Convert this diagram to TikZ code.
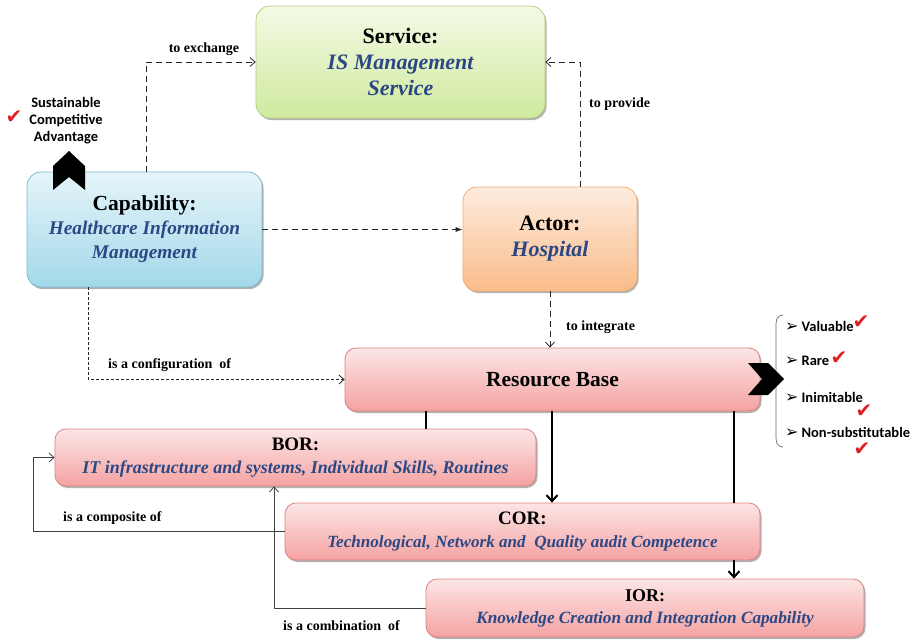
\documentclass[tikz,border=0pt]{standalone}
\usepackage{fontspec}
\setmainfont{Liberation Serif}
\newfontfamily\labelsans{Carlito}
\newfontfamily\symfont{DejaVu Sans}
\usetikzlibrary{arrows.meta,shadows}

\definecolor{subblue}{RGB}{44,72,132}
\definecolor{greentop}{RGB}{244,250,230}
\definecolor{greenbot}{RGB}{208,234,158}
\definecolor{greenline}{RGB}{178,210,128}
\definecolor{bluetop}{RGB}{230,245,250}
\definecolor{bluebot}{RGB}{162,216,233}
\definecolor{blueline}{RGB}{120,188,212}
\definecolor{orgtop}{RGB}{253,236,222}
\definecolor{orgbot}{RGB}{250,188,138}
\definecolor{orgline}{RGB}{244,172,112}
\definecolor{pinktop}{RGB}{252,230,230}
\definecolor{pinkbot}{RGB}{245,162,162}
\definecolor{pinkline}{RGB}{222,128,128}
\definecolor{tickred}{RGB}{225,30,35}

\tikzset{
  box/.style={rounded corners=14pt, line width=0.8pt, align=center, inner sep=0pt,
    drop shadow={shadow xshift=1.5pt, shadow yshift=-2pt, opacity=0.3, fill=black}},
  greenbox/.style={box, top color=greentop, bottom color=greenbot, draw=greenline},
  bluebox/.style={box, top color=bluetop, bottom color=bluebot, draw=blueline},
  orgbox/.style={box, top color=orgtop, bottom color=orgbot, draw=orgline},
  pinkbox/.style={box, rounded corners=11pt, top color=pinktop, bottom color=pinkbot, draw=pinkline},
  lbl/.style={font=\fontsize{14}{16}\selectfont\bfseries, inner sep=0pt},
  sidetext/.style={font=\labelsans\fontsize{14.5}{17}\selectfont\bfseries, inner sep=0pt},
  tick/.style={font=\symfont\fontsize{20}{20}\selectfont, text=tickred, inner sep=0pt},
  dashlink/.style={draw=black!85, line width=0.8pt, dash pattern=on 6pt off 4pt},
  finedash/.style={draw=black!85, line width=0.8pt, dash pattern=on 3pt off 2pt},
  openhead/.style={-{Straight Barb[length=5pt,width=9pt,line width=0.8pt]}},
  thinlink/.style={draw=black!75, line width=0.9pt},
  thicklink/.style={draw=black, line width=2.2pt},
  thickhead/.style={-{Straight Barb[length=6pt,width=11pt,line width=2pt]}},
}

\newcommand{\subt}[1]{{\color{subblue}\itshape #1}}
\newcommand{\bul}{{\symfont\fontsize{16}{16}\selectfont ➢}\hspace{3pt}}

\begin{document}
\begin{tikzpicture}[x=1pt,y=-1pt]
\useasboundingbox (0,0) rectangle (916,640);

% ---- main boxes ----
\node[greenbox, minimum width=289pt, minimum height=112pt,
      font=\fontsize{22}{26}\selectfont\bfseries] (svc) at (400.5,62)
  {Service:\\ \subt{IS Management}\\ \subt{Service}};
\node[bluebox, minimum width=235pt, minimum height=115pt,
      font=\fontsize{21.5}{24}\selectfont\bfseries] (cap) at (144.5,229.5)
  {Capability:\\ \fontsize{19.3}{24}\selectfont\subt{Healthcare Information}\\ \fontsize{19.3}{24}\selectfont\subt{Management}};
\node[orgbox, minimum width=174pt, minimum height=104pt,
      font=\fontsize{22}{26}\selectfont\bfseries] (act) at (550,239)
  {Actor:\\ \subt{Hospital}};
\node[pinkbox, minimum width=415pt, minimum height=63pt,
      font=\fontsize{21.5}{24}\selectfont\bfseries] (rb) at (552.5,379.5)
  {Resource Base};
\node[pinkbox, minimum width=481pt, minimum height=57pt,
      font=\fontsize{19}{23}\selectfont\bfseries] (bor) at (295.5,457.5)
  {BOR:\\ \fontsize{18}{23}\selectfont\subt{IT infrastructure and systems, Individual Skills, Routines}};
\node[pinkbox, minimum width=475pt, minimum height=57pt,
      font=\fontsize{19}{23}\selectfont\bfseries] (cor) at (522.5,531.5)
  {COR:\\ \fontsize{17.1}{23}\selectfont\subt{Technological, Network and~ Quality audit Competence}};
\node[pinkbox, minimum width=438pt, minimum height=58pt,
      font=\fontsize{18}{22}\selectfont\bfseries] (ior) at (645,608)
  {IOR:\\ \fontsize{17.2}{22}\selectfont\subt{Knowledge Creation and Integration Capability}};

% ---- dashed relations ----
\draw[dashlink, openhead] (146,0 |- cap.north) |- (svc.west);
\draw[dashlink, openhead] (580,0 |- act.north) |- (svc.east);
\draw[dashlink, -{Latex[length=7pt,width=5pt]}] (cap.east) -- (cap.east -| act.west);
\draw[finedash, openhead] (88,0 |- cap.south) |- (rb.west);
\draw[dashlink, openhead] (act.south) -- (act.south |- rb.north);

% ---- resource base decomposition ----
\draw[thicklink] (426,0 |- rb.south) -- (426,0 |- bor.north);
\draw[thicklink, thickhead] (552,0 |- rb.south) -- (552,0 |- cor.north);
\draw[thicklink] (734,0 |- rb.south) -- (734,0 |- cor.north);
\draw[thicklink, thickhead] (734,0 |- cor.south) -- (734,0 |- ior.north);

% ---- solid relations ----
\draw[thinlink, openhead] (cor.west) -| ([xshift=-21pt]bor.west) -- (bor.west);
\draw[thinlink, openhead] (ior.west) -| (274,0 |- bor.south);

% ---- relation labels ----
\node[lbl] (lexch) at (204,49) {to exchange};
\node[lbl, anchor=west] (lprov) at (589,104) {to provide};
\node[lbl, anchor=west] (lint) at (566,327) {to integrate};
\node[lbl, anchor=west] (lconf) at (108,365) {is a configuration~ of};
\node[lbl, anchor=west] (lcomp) at (63,518) {is a composite of};
\node[lbl, anchor=west] (lcomb) at (283,626) {is a combination~ of};

% ---- competitive advantage ----
\node[sidetext, align=center] (sca) at (66,121)
  {Sustainable\\Competitive\\Advantage};
\node[tick] (tsca) at (14,117) {✔};
\fill[black] (53,190) -- (53,166) -- (69,151) -- (85,166) -- (85,190) -- (69,177) -- cycle;

% ---- resource attributes ----
\draw[black!60, line width=0.7pt]
  (783,315) .. controls (776,316) and (776,320) .. (776,328)
  -- (776,370) .. controls (776,376) and (774,378) .. (771,379)
  .. controls (774,380) and (776,382) .. (776,388)
  -- (776,434) .. controls (776,442) and (776,446) .. (783,447);
\fill[black] (748,363) -- (768,363) -- (784,379) -- (768,395) -- (748,395) -- (762,379) -- cycle;
\node[sidetext, anchor=west] (val) at (785,326) {\bul Valuable};
\node[sidetext, anchor=west] (rare) at (785,361) {\bul Rare};
\node[sidetext, anchor=west] (inim) at (785,397) {\bul Inimitable};
\node[sidetext, anchor=west] (nons) at (785,432) {\bul Non-substitutable};
\node[tick] (tval) at (861,322) {✔};
\node[tick] (trare) at (839,358) {✔};
\node[tick] (tinim) at (864,411) {✔};
\node[tick] (tnons) at (862,449) {✔};
\end{tikzpicture}
\end{document}
